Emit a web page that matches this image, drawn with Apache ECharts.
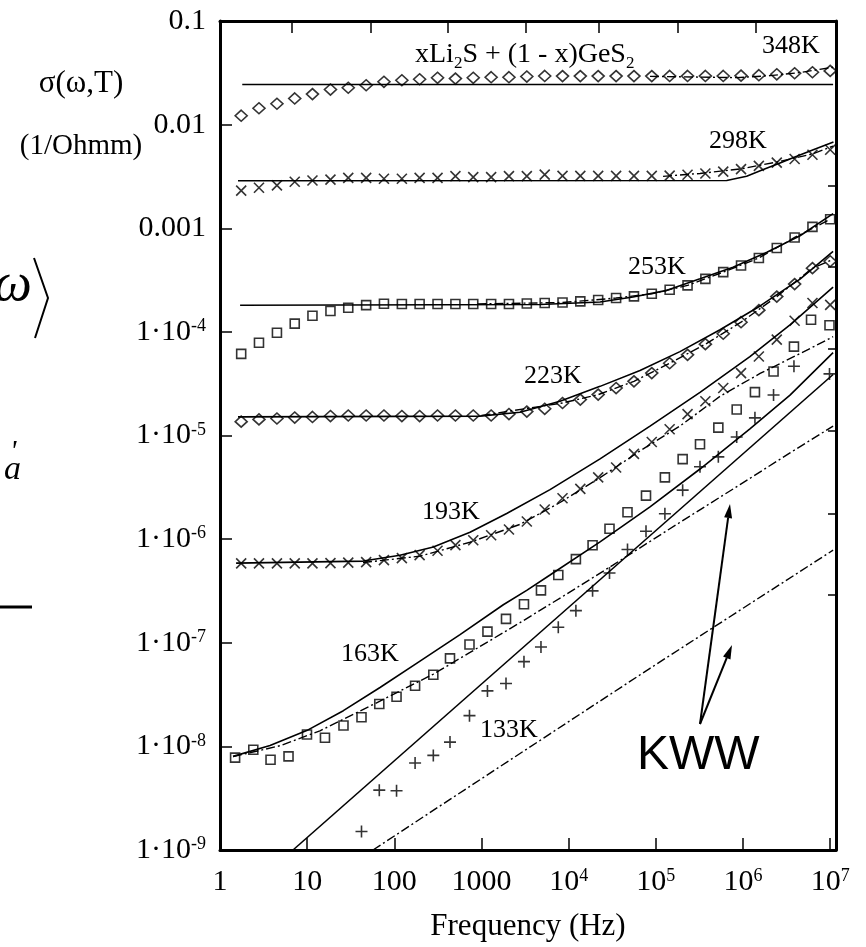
<!DOCTYPE html>
<html>
<head>
<meta charset="utf-8">
<script src="https://cdn.jsdelivr.net/npm/echarts@6/dist/echarts.min.js"></script>
<style>
  html, body { margin: 0; padding: 0; background: #fff; }
  #chart { width: 866px; height: 947px; }
</style>
</head>
<body>
<div id="chart"></div>
<script>
// Measurement frequencies (Hz): grid used for 348K ... 193K, and for 163K / 133K
const freqHz = [1.75, 2.8, 4.5, 7.2, 11.5, 18.5, 29.6, 47.5, 76, 122, 195, 313, 502, 804, 1290, 2065, 3310, 5310,
  8500, 13600, 21800, 35000, 56100, 89800, 144000, 231000, 370000, 593000, 949000, 1520000, 2440000, 3910000, 6260000, 10000000];
const freqLowHz = [1.49, 2.41, 3.8, 6.11, 9.95, 16.0, 26.1, 42.0, 67.2, 106, 173, 280, 435, 728, 1170, 1910, 3070, 4810,
  7600, 12100, 18800, 29400, 47300, 77100, 127000, 203000, 321000, 521000, 846000, 1370000, 2240000, 3840000, 6030000, 9820000];

// Measured conductivity sigma(omega, T), 1/(Ohm m)
const sigma348K = [0.0122, 0.0144, 0.0159, 0.0179, 0.0197, 0.0218, 0.0227, 0.0240, 0.0259, 0.0268, 0.0274, 0.0283, 0.0278, 0.0283,
  0.0287, 0.0287, 0.0291, 0.0295, 0.0294, 0.0294, 0.0294, 0.0294, 0.0294, 0.0294, 0.0295, 0.0295, 0.0295, 0.0295, 0.0297, 0.0300,
  0.0306, 0.0313, 0.0320, 0.0330];
const sigma298K = [0.00231, 0.00246, 0.00259, 0.00281, 0.00289, 0.00295, 0.00306, 0.00306, 0.00300, 0.00300, 0.00306, 0.00306,
  0.00318, 0.00311, 0.00311, 0.00318, 0.00318, 0.00329, 0.00320, 0.00320, 0.00320, 0.00320, 0.00320, 0.00320, 0.00322, 0.00328,
  0.00338, 0.00352, 0.00372, 0.00400, 0.00430, 0.00466, 0.00512, 0.00572];
const sigma253K = [6.13e-5, 7.86e-5, 9.81e-5, 1.20e-4, 1.43e-4, 1.59e-4, 1.71e-4, 1.81e-4, 1.87e-4, 1.86e-4, 1.86e-4, 1.86e-4,
  1.86e-4, 1.86e-4, 1.86e-4, 1.86e-4, 1.88e-4, 1.90e-4, 1.92e-4, 1.97e-4, 2.03e-4, 2.12e-4, 2.20e-4, 2.33e-4, 2.55e-4, 2.81e-4,
  3.25e-4, 3.77e-4, 4.37e-4, 5.16e-4, 6.44e-4, 8.15e-4, 1.03e-3, 1.22e-3];
const sigma223K = [1.36e-5, 1.43e-5, 1.46e-5, 1.49e-5, 1.51e-5, 1.54e-5, 1.56e-5, 1.56e-5, 1.56e-5, 1.54e-5, 1.54e-5, 1.56e-5,
  1.56e-5, 1.56e-5, 1.56e-5, 1.61e-5, 1.70e-5, 1.81e-5, 2.06e-5, 2.22e-5, 2.48e-5, 2.87e-5, 3.33e-5, 4.00e-5, 4.98e-5, 6.00e-5,
  7.61e-5, 9.60e-5, 1.24e-4, 1.62e-4, 2.19e-4, 2.89e-4, 4.12e-4, 4.80e-4];
const sigma193K = [5.83e-7, 5.83e-7, 5.83e-7, 5.83e-7, 5.83e-7, 5.87e-7, 5.94e-7, 6.00e-7, 6.27e-7, 6.56e-7, 7.00e-7, 7.73e-7,
  8.74e-7, 9.75e-7, 1.09e-6, 1.24e-6, 1.48e-6, 1.93e-6, 2.48e-6, 3.05e-6, 3.94e-6, 4.91e-6, 6.65e-6, 8.66e-6, 1.15e-5, 1.61e-5,
  2.14e-5, 2.87e-5, 4.00e-5, 5.78e-5, 8.41e-5, 1.28e-4, 1.90e-4, 1.82e-4];
const sigma163K = [7.78e-9, 9.28e-9, 7.44e-9, 8.01e-9, 1.30e-8, 1.21e-8, 1.59e-8, 1.91e-8, 2.56e-8, 3.01e-8, 3.84e-8, 4.91e-8,
  7.07e-8, 9.62e-8, 1.28e-7, 1.70e-7, 2.35e-7, 3.20e-7, 4.51e-7, 6.41e-7, 8.74e-7, 1.26e-6, 1.82e-6, 2.63e-6, 3.94e-6, 5.91e-6,
  8.23e-6, 1.19e-5, 1.78e-5, 2.62e-5, 4.15e-5, 7.20e-5, 1.31e-4, 1.16e-4];
const sigma133K = [null, null, null, null, null, null, null, 1.51e-9, 3.78e-9, 3.73e-9, 6.92e-9, 8.18e-9, 1.10e-8, 1.98e-8,
  3.43e-8, 4.04e-8, 6.57e-8, 9.11e-8, 1.41e-7, 2.04e-7, 3.17e-7, 4.71e-7, 7.95e-7, 1.19e-6, 1.76e-6, 2.97e-6, 4.99e-6, 6.22e-6,
  9.67e-6, 1.48e-5, 2.46e-5, 4.66e-5, null, 3.93e-5];

// Model curves (solid), [frequency Hz, sigma]
const model348K = [[1.8, 0.0244], [1.08e7, 0.0244]];
const model298K = [[1.61, 0.00287], [6.5e5, 0.00289], [1.1e6, 0.00318], [1.71e6, 0.00368], [2.66e6, 0.00427], [4.13e6, 0.00494],
  [6.4e6, 0.00572], [1.09e7, 0.00678]];
const model253K = [[1.7, 1.807e-4], [4690, 1.839e-4], [22900, 1.943e-4], [54700, 2.17e-4], [134000, 2.516e-4], [321000, 3.249e-4],
  [768000, 4.207e-4], [1.88e6, 5.857e-4], [4.51e6, 8.466e-4], [1.08e7, 1.384e-3]];
const model223K = [[1.61, 1.514e-5], [961, 1.538e-5], [2765, 1.679e-5], [7950, 2.14e-5], [22900, 2.979e-5], [65800, 4.241e-5],
  [189000, 6.45e-5], [545000, 1.048e-4], [1.57e6, 1.779e-4], [4.51e6, 3.228e-4], [1.08e7, 5.986e-4]];
const model193K = [[1.53, 5.873e-7], [44, 6.14e-7], [116, 7.0e-7], [280, 8.41e-7], [738, 1.164e-6], [1945, 1.77e-6],
  [6110, 3.006e-6], [22900, 5.95e-6], [85700, 1.233e-5], [321000, 2.611e-5], [1.2e6, 5.778e-5], [3.46e6, 1.17e-4], [1.08e7, 2.705e-4]];
const model163K = [[1.41, 8.01e-9], [3.75, 1.021e-8], [9.88, 1.42e-8], [26, 2.21e-8], [68.5, 3.7e-8], [197, 6.66e-8], [567, 1.2e-7],
  [1778, 2.325e-7], [3300, 3.2e-7], [6110, 4.507e-7], [22900, 9.4e-7], [85700, 2.05e-6], [321000, 4.75e-6], [1.2e6, 1.16e-5],
  [3.46e6, 2.45e-5], [1.08e7, 6.3e-5]];
const model133K = [[6.88, 1.0e-9], [1.08e7, 3.88e-5]];

// KWW-type fits (dash-dot), [frequency Hz, sigma]
const kww348K = [[85700, 0.0292], [8.5e5, 0.0284], [2.04e6, 0.0297], [4.5e6, 0.0318], [1.08e7, 0.0358]];
const kww298K = [[1.21e5, 0.00317], [3.21e5, 0.00338], [9.48e5, 0.00374], [2.45e6, 0.00436], [6.18e6, 0.0052], [1.08e7, 0.00621]];
const kww253K = [[900, 1.86e-4], [8500, 1.92e-4], [35000, 2.12e-4], [89800, 2.33e-4], [231000, 2.81e-4], [593000, 3.77e-4],
  [1.52e6, 5.16e-4], [3.91e6, 8.15e-4], [1.0e7, 1.22e-3]];
const kww223K = [[1000, 1.56e-5], [8500, 2.06e-5], [21800, 2.48e-5], [56100, 3.33e-5], [144000, 4.98e-5], [370000, 7.61e-5],
  [949000, 1.24e-4], [2.44e6, 2.19e-4], [6.26e6, 4.12e-4], [1.08e7, 5.0e-4]];
const kww193K = [[43.7, 5.94e-7], [197, 6.85e-7], [738, 9.33e-7], [2765, 1.388e-6], [7950, 2.256e-6], [22900, 3.915e-6],
  [65800, 7.1e-6], [189000, 1.233e-5], [545000, 2.39e-5], [1.57e6, 3.97e-5], [4.51e6, 6.17e-5], [1.08e7, 8.98e-5]];
const kww163K = [[1.41, 7.96e-9], [4.88, 1.014e-8], [14, 1.411e-8], [68.5, 2.735e-8], [278, 4.963e-8], [738, 8.06e-8],
  [2765, 1.563e-7], [9560, 2.963e-7], [32200, 5.62e-7], [189000, 1.451e-6], [923000, 3.355e-6], [3.46e6, 6.795e-6], [1.08e7, 1.233e-5]];
const kww133K = [[56.9, 1.0e-9], [435, 3.08e-9], [6110, 1.321e-8], [85700, 5.665e-8], [1.2e6, 2.377e-7], [1.08e7, 7.82e-7]];

// Axis tick labels (exponent -> text)
const xTickLabels = ['1', '10', '100', '1000', '10{sup|4}', '10{sup|5}', '10{sup|6}', '10{sup|7}'];
const yTickExponents = [-9, -8, -7, -6, -5, -4, -3, -2, -1];
const yTickLabels = ['1·10{sup|-9}', '1·10{sup|-8}', '1·10{sup|-7}', '1·10{sup|-6}', '1·10{sup|-5}', '1·10{sup|-4}',
  '0.001', '0.01', '0.1'];
// Tick marks along the top and right frame edges
const topTickFreqs = [6.7, 54, 413, 3240, 22300, 180000, 1410000];
const rightTickSigmas = [2.57e-3, 4.21e-4, 6.89e-5, 1.10e-5, 1.77e-6, 2.90e-7];

const SERIF = '"Liberation Serif", "Times New Roman", serif';
const SANS = '"Liberation Sans", Arial, sans-serif';

const chart = echarts.init(document.getElementById('chart'), null, { renderer: 'canvas' });

function zipPoints(freq, values) {
  const out = [];
  freq.forEach((f, i) => { if (values[i] != null) out.push([f, values[i]]); });
  return out;
}
function exponentOf(v) {
  const e = Math.log10(v);
  const r = Math.round(e);
  return Math.abs(e - r) < 1e-6 ? r : null;
}

const symbols = {
  diamond: { symbol: 'diamond', symbolSize: [12, 11] },
  cross: { symbol: 'path://M0,0L10,10M10,0L0,10', symbolSize: 10 },
  square: { symbol: 'rect', symbolSize: 9 },
  plus: { symbol: 'path://M5,0L5,10M0,5L10,5', symbolSize: 12 }
};
const dashDot = [9, 3, 2, 3];

function curve(name, data, type, width) {
  return { name, type: 'line', data, showSymbol: false, symbol: 'none', silent: true, z: 2,
    lineStyle: { color: '#000', width, type } };
}
const modelLine = (name, data) => curve(name, data, 'solid', 1.6);
const kwwLine = (name, data) => curve(name, data, dashDot, 1.4);
function points(name, data, mark) {
  return Object.assign({ name, type: 'scatter', data, silent: true, z: 3,
    itemStyle: { color: 'rgba(0,0,0,0)', borderColor: '#000', borderWidth: 1.6 } }, symbols[mark]);
}

const series = [
  modelLine('348K model', model348K), kwwLine('348K KWW', kww348K), points('348K', zipPoints(freqHz, sigma348K), 'diamond'),
  modelLine('298K model', model298K), kwwLine('298K KWW', kww298K), points('298K', zipPoints(freqHz, sigma298K), 'cross'),
  modelLine('253K model', model253K), kwwLine('253K KWW', kww253K), points('253K', zipPoints(freqHz, sigma253K), 'square'),
  modelLine('223K model', model223K), kwwLine('223K KWW', kww223K), points('223K', zipPoints(freqHz, sigma223K), 'diamond'),
  modelLine('193K model', model193K), kwwLine('193K KWW', kww193K), points('193K', zipPoints(freqHz, sigma193K), 'cross'),
  modelLine('163K model', model163K), kwwLine('163K KWW', kww163K), points('163K', zipPoints(freqLowHz, sigma163K), 'square'),
  modelLine('133K model', model133K), kwwLine('133K KWW', kww133K), points('133K', zipPoints(freqLowHz, sigma133K), 'plus')
];

const frameLine = { show: true, onZero: false, lineStyle: { color: '#000', width: 3 } };
const supRich = {
  sup: { fontSize: 18, fontFamily: SERIF, color: '#000', padding: [0, 0, 11, 0] }
};
const X_MAX = 1.166e7;

function tempLabel(text, x, y) {
  return { type: 'text', x, y, silent: true,
    style: { text, fill: '#000', font: '26px ' + SERIF, align: 'center', verticalAlign: 'middle' } };
}
function arrow(x0, y0, x1, y1) {
  const dx = x1 - x0, dy = y1 - y0, len = Math.hypot(dx, dy);
  const ux = dx / len, uy = dy / len, hl = 14, hw = 4;
  const bx = x1 - ux * hl, by = y1 - uy * hl;
  return [
    { type: 'line', silent: true, shape: { x1: x0, y1: y0, x2: bx, y2: by }, style: { stroke: '#000', lineWidth: 2 } },
    { type: 'polygon', silent: true,
      shape: { points: [[x1, y1], [bx - uy * hw, by + ux * hw], [bx + uy * hw, by - ux * hw]] },
      style: { fill: '#000' } }
  ];
}

const option = {
  animation: false,
  backgroundColor: '#fff',
  grid: { left: 220, top: 21, width: 616, height: 836, containLabel: false },
  xAxis: [
    {
      type: 'log', logBase: 10, min: 1, max: X_MAX, position: 'bottom',
      axisLine: frameLine,
      axisTick: { show: true, inside: true, length: 12, lineStyle: { color: '#000', width: 1.5 } },
      minorTick: { show: false }, splitLine: { show: false },
      axisLabel: {
        show: true, margin: 17, color: '#000', fontSize: 30, fontFamily: SERIF, hideOverlap: false,
        formatter: (v) => { const e = exponentOf(v); return e == null ? '' : (xTickLabels[e] || ''); },
        rich: supRich
      },
      name: 'Frequency (Hz)', nameLocation: 'middle', nameGap: 61,
      nameTextStyle: { color: '#000', fontSize: 31, fontFamily: SERIF }
    },
    {
      type: 'log', logBase: 10, min: 1, max: X_MAX, position: 'top',
      axisLine: frameLine,
      axisTick: { show: true, inside: true, length: 12, customValues: topTickFreqs, lineStyle: { color: '#000', width: 1.5 } },
      axisLabel: { show: false }, splitLine: { show: false }, minorTick: { show: false }
    }
  ],
  yAxis: [
    {
      type: 'log', logBase: 10, min: 1e-9, max: 0.1, position: 'left',
      axisLine: frameLine,
      axisTick: { show: true, inside: true, length: 12, lineStyle: { color: '#000', width: 1.5 } },
      minorTick: { show: false }, splitLine: { show: false },
      axisLabel: {
        show: true, margin: 14, color: '#000', fontSize: 30, fontFamily: SERIF,
        formatter: (v) => { const e = exponentOf(v); const i = yTickExponents.indexOf(e); return i < 0 ? '' : yTickLabels[i]; },
        rich: supRich
      }
    },
    {
      type: 'log', logBase: 10, min: 1e-9, max: 0.1, position: 'right',
      axisLine: frameLine,
      axisTick: { show: true, inside: true, length: 8, customValues: rightTickSigmas, lineStyle: { color: '#000', width: 1.5 } },
      axisLabel: { show: false }, splitLine: { show: false }, minorTick: { show: false }
    }
  ],
  series,
  graphic: { elements: [
    // axis quantity and unit
    { type: 'text', x: 81, y: 84, silent: true,
      style: { text: 'σ(ω,T)', fill: '#000', font: '31px ' + SERIF, align: 'center', verticalAlign: 'middle' } },
    { type: 'text', x: 81, y: 146, silent: true,
      style: { text: '(1/Ohmm)', fill: '#000', font: '29px ' + SERIF, align: 'center', verticalAlign: 'middle' } },
    // composition
    { type: 'text', x: 415, y: 55, silent: true,
      style: { text: '{m|xLi}{sub|2}{m|S + (1 - x)GeS}{sub|2}', fill: '#000', font: '28px ' + SERIF,
        align: 'left', verticalAlign: 'middle',
        rich: { m: { fontSize: 28, fontFamily: SERIF, verticalAlign: 'top', lineHeight: 28 },
                sub: { fontSize: 17, fontFamily: SERIF, verticalAlign: 'top', lineHeight: 17, padding: [14, 0, 0, 0] } } } },
    tempLabel('348K', 791, 46),
    tempLabel('298K', 738, 141),
    tempLabel('253K', 657, 267),
    tempLabel('223K', 553, 376),
    tempLabel('193K', 451, 512),
    tempLabel('163K', 370, 654),
    tempLabel('133K', 509, 730),
    { type: 'text', x: 637, y: 756, silent: true,
      style: { text: 'KWW', fill: '#000', font: '48px ' + SANS, align: 'left', verticalAlign: 'middle' } },
    ...arrow(700, 724, 730, 504),
    ...arrow(700, 724, 732, 645),
    // equation fragments at the left edge
    { type: 'text', x: 32, y: 286, silent: true,
      style: { text: 'ω', fill: '#000', font: 'italic 54px ' + SERIF, align: 'right', verticalAlign: 'middle' } },
    { type: 'polyline', silent: true, shape: { points: [[34, 258], [48, 298], [35, 338]] },
      style: { stroke: '#000', lineWidth: 2, fill: null } },
    { type: 'text', x: 10, y: 452, silent: true,
      style: { text: '\'', fill: '#000', font: 'italic 30px ' + SERIF, align: 'left', verticalAlign: 'middle' } },
    { type: 'text', x: 4, y: 470, silent: true,
      style: { text: 'a', fill: '#000', font: 'italic 34px ' + SERIF, align: 'left', verticalAlign: 'middle' } },
    { type: 'line', silent: true, shape: { x1: 0, y1: 607, x2: 32, y2: 607 }, style: { stroke: '#000', lineWidth: 3 } }
  ] }
};

chart.setOption(option);
</script>
</body>
</html>
